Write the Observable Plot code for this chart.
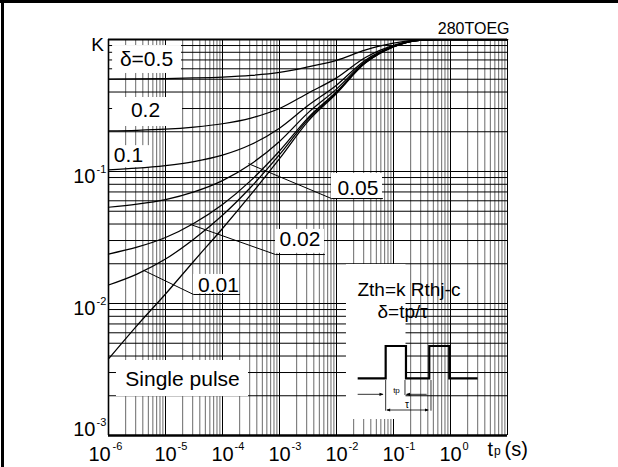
<!DOCTYPE html>
<html><head><meta charset="utf-8">
<script src="https://cdn.jsdelivr.net/npm/d3@7"></script>
<script src="https://cdn.jsdelivr.net/npm/@observablehq/plot@0.6"></script>
<style>html,body{margin:0;padding:0;background:#fff} svg{display:block}</style>
</head><body><div id="chart"></div>
<script>
// pulse duration tp (s)
const tp = [1e-6, 3.16e-6, 1e-5, 3.16e-5, 1e-4, 3.16e-4, 1e-3, 3.16e-3, 1e-2, 3.16e-2, 5.62e-2, 0.1, 0.178, 0.316, 0.562, 1, 10];
// normalized thermal impedance K for each duty cycle
const kD05 = [0.502, 0.503, 0.506, 0.511, 0.519, 0.534, 0.563, 0.62, 0.695, 0.83, 0.89, 0.94, 0.978, 0.995, 1, 1, 1];
const kD02 = [0.203, 0.205, 0.209, 0.217, 0.230, 0.254, 0.300, 0.392, 0.512, 0.728, 0.824, 0.904, 0.964, 0.992, 1, 1, 1];
const kD01 = [0.103, 0.106, 0.111, 0.119, 0.133, 0.160, 0.213, 0.316, 0.451, 0.694, 0.802, 0.892, 0.960, 0.991, 1, 1, 1];
const kD005 = [0.0536, 0.0565, 0.0612, 0.070, 0.0852, 0.114, 0.169, 0.278, 0.421, 0.677, 0.791, 0.886, 0.957, 0.991, 1, 1, 1];
const kD002 = [0.0237, 0.0267, 0.0316, 0.0406, 0.0563, 0.0857, 0.143, 0.255, 0.402, 0.667, 0.784, 0.882, 0.956, 0.990, 1, 1, 1];
const kD001 = [0.0138, 0.0167, 0.0217, 0.0308, 0.0466, 0.0763, 0.134, 0.248, 0.396, 0.663, 0.782, 0.881, 0.955, 0.990, 1, 1, 1];
const kSingle = [0.0038, 0.0068, 0.0118, 0.021, 0.037, 0.067, 0.125, 0.24, 0.39, 0.66, 0.78, 0.88, 0.955, 0.99, 1, 1, 1];
const seriesNames = ["δ=0.5", "0.2", "0.1", "0.05", "0.02", "0.01", "Single pulse"];
const xTickExp = [-6, -5, -4, -3, -2, -1, 0];
const yTickExp = [-3, -2, -1];
const mantissas = [1, 2, 3, 4, 5, 6, 7, 8, 9];

const series = [kD05, kD02, kD01, kD005, kD002, kD001, kSingle];
const rows = series.flatMap((s, i) => s.map((k, j) => ({t: tp[j], k, name: seriesNames[i]})));

const gridMinorX = [-6,-5,-4,-3,-2,-1,0].flatMap(e => mantissas.slice(1).map(m => m * 10 ** e));
const gridMajorX = [-6,-5,-4,-3,-2,-1,0,1].map(e => 10 ** e);
const gridY = [-3,-2,-1].flatMap(e => mantissas.map(m => m * 10 ** e)).concat([1]);

// annotation placement (data units)
const boxes = [
  {x1: 1.18e-6, x2: 1.91e-5, y1: 0.553, y2: 0.90},
  {x1: 1.18e-6, x2: 1.99e-5, y1: 0.2193, y2: 0.3636},
  {x1: 1.08e-6, x2: 5.24e-6, y1: 0.107, y2: 0.157},
  {x1: 8.17e-3, x2: 0.0641, y1: 0.0624, y2: 0.0966},
  {x1: 8.51e-4, x2: 6.15e-3, y1: 0.0240, y2: 0.0364},
  {x1: 3.10e-5, x2: 1.99e-4, y1: 0.0119, y2: 0.0166},
  {x1: 1.38e-6, x2: 2.86e-4, y1: 0.00197, y2: 0.0037},
  {x1: 0.01496, x2: 0.1657, y1: 0.001322, y2: 0.01974}
];
const labels = [
  {t: 4.64e-6, k: 0.635, s: "δ=0.5"},
  {t: 4.46e-6, k: 0.2566, s: "0.2"},
  {t: 2.24e-6, k: 0.117, s: "0.1"},
  {t: 0.0238, k: 0.0658, s: "0.05"},
  {t: 2.29e-3, k: 0.0272, s: "0.02"},
  {t: 8.51e-5, k: 0.01222, s: "0.01"},
  {t: 1.99e-5, k: 0.00239, s: "Single pulse"}
];
const leaders = [
  {g: "0.05", t: 2.89e-4, k: 0.1144}, {g: "0.05", t: 8.17e-3, k: 0.0624}, {g: "0.05", t: 0.0641, k: 0.0624},
  {g: "0.02", t: 2.75e-5, k: 0.0397}, {g: "0.02", t: 8.51e-4, k: 0.0235}, {g: "0.02", t: 6.15e-3, k: 0.0235},
  {g: "0.01", t: 4.16e-6, k: 0.0178}, {g: "0.01", t: 3.10e-5, k: 0.0117}, {g: "0.01", t: 1.99e-4, k: 0.0117}
];
const insetText = [
  {t: 0.02333, k: 0.01130, s: "Zth=k Rthj-c"},
  {t: 0.0524, k: 0.00770, s: "δ=tp/τ"}
];

const font = "'Liberation Sans', Arial, Helvetica, sans-serif";
const X0 = () => 1e-6, Y0 = () => 1e-3;

const chart = Plot.plot({
  width: 618, height: 467,
  marginLeft: 108, marginRight: 111, marginTop: 39, marginBottom: 32,
  style: {fontFamily: font, background: "#fff", color: "#000"},
  x: {type: "log", domain: [1e-6, 10], axis: null},
  y: {type: "log", domain: [1e-3, 1], axis: null},
  marks: [
    Plot.ruleX(gridMinorX, {stroke: "#6a6a6a", strokeWidth: 1}),
    Plot.ruleX(gridMajorX, {stroke: "#000", strokeWidth: 1}),
    Plot.ruleY(gridY, {stroke: "#000", strokeWidth: 1}),
    Plot.ruleY([1], {stroke: "#000", strokeWidth: 2.2}),
    Plot.rect(boxes, {x1: "x1", x2: "x2", y1: "y1", y2: "y2", fill: "#fff"}),
    Plot.line(rows, {x: "t", y: "k", z: "name", stroke: "#000", strokeWidth: 1.25, curve: "monotone-x"}),
    Plot.line(leaders, {x: "t", y: "k", z: "g", stroke: "#000", strokeWidth: 1}),
    Plot.ruleX([1e-6], {stroke: "#000", strokeWidth: 1.6}),
    Plot.ruleY([1e-3], {stroke: "#000", strokeWidth: 2.6}),
    Plot.text(labels, {x: "t", y: "k", text: "s", fontSize: 21, lineAnchor: "bottom", textAnchor: "middle", fill: "#000"}),
    Plot.text(insetText, {x: "t", y: "k", text: "s", fontSize: 19, lineAnchor: "bottom", textAnchor: "start", fill: "#000"}),
    // x tick labels
    Plot.text(xTickExp.slice(0, 1), {x: e => 10 ** e, y: Y0, text: () => "10", dx: -9, dy: 25, fontSize: 20, lineAnchor: "bottom", textAnchor: "middle"}),
    Plot.text(xTickExp.slice(1), {x: e => 10 ** e, y: Y0, text: () => "10", dy: 25, fontSize: 20, lineAnchor: "bottom", textAnchor: "middle"}),
    Plot.text(xTickExp.slice(0, 1), {x: e => 10 ** e, y: Y0, text: e => String(e), dx: 4, dy: 14, fontSize: 11, lineAnchor: "bottom", textAnchor: "start"}),
    Plot.text(xTickExp.slice(1), {x: e => 10 ** e, y: Y0, text: e => String(e), dx: 12, dy: 14, fontSize: 11, lineAnchor: "bottom", textAnchor: "start"}),
    // y tick labels
    Plot.text(yTickExp.slice(1), {x: X0, y: e => 10 ** e, text: () => "10", dx: -13, dy: 11, fontSize: 20, lineAnchor: "bottom", textAnchor: "end"}),
    Plot.text(yTickExp.slice(1), {x: X0, y: e => 10 ** e, text: e => String(e), dx: -12, dy: 1, fontSize: 11, lineAnchor: "bottom", textAnchor: "start"}),
    Plot.text(yTickExp.slice(0, 1), {x: X0, y: e => 10 ** e, text: () => "10", dx: -13, dy: 0, fontSize: 20, lineAnchor: "bottom", textAnchor: "end"}),
    Plot.text(yTickExp.slice(0, 1), {x: X0, y: e => 10 ** e, text: e => String(e), dx: -12, dy: -10, fontSize: 11, lineAnchor: "bottom", textAnchor: "start"}),
    Plot.text(["K"], {x: X0, y: () => 1, dx: -11, dy: 11, fontSize: 19, lineAnchor: "bottom", textAnchor: "middle"}),
    Plot.text(["280TOEG"], {x: () => 10, y: () => 1, dx: 2, dy: -6, fontSize: 16, lineAnchor: "bottom", textAnchor: "end"}),
    // axis title tp(s)
    Plot.text(["t"], {x: () => 10, y: Y0, dx: -20, dy: 20, fontSize: 20, lineAnchor: "bottom", textAnchor: "start"}),
    Plot.text(["p"], {x: () => 10, y: Y0, dx: -13.5, dy: 19, fontSize: 12, lineAnchor: "bottom", textAnchor: "start"}),
    Plot.text(["(s)"], {x: () => 10, y: Y0, dx: -3, dy: 20, fontSize: 20, lineAnchor: "bottom", textAnchor: "start"})
  ]
});

document.getElementById("chart").appendChild(chart);

// pulse schematic inside the inset, positioned from the inset box corner
const sx = chart.scale("x"), sy = chart.scale("y");
const bx = sx.apply(boxes[7].x1), by = sy.apply(boxes[7].y2);
const svg = d3.select(chart);
const g = svg.append("g").attr("transform", `translate(${bx},${by})`).attr("fill", "none").attr("stroke", "#000");
g.append("path").attr("d", "M11.7,114.3H39.7V82H60V114.3H83.3V82H103.3V114.3H131.7").attr("stroke-width", 2.2);
g.append("path").attr("d", "M39.7,116V146.7M59,116V131M85,116V146.7M11.7,130.3H37M80.7,130.3H60.5M41,146H82").attr("stroke-width", 0.8);
g.append("path").attr("d", "M37.5,130.3l-4,-1.6v3.2zM60,130.3l4,-1.6v3.2zM40.2,146l4,-1.6v3.2zM83,146l-4,-1.6v3.2z").attr("fill", "#000").attr("stroke", "none");
g.append("text").attr("x", 50.5).attr("y", 129).attr("text-anchor", "middle").attr("font-size", 8).attr("fill", "#000").attr("stroke", "none").attr("font-family", font).text("tp");
g.append("text").attr("x", 61).attr("y", 144).attr("text-anchor", "middle").attr("font-size", 10).attr("fill", "#000").attr("stroke", "none").attr("font-family", font).text("τ");

// page frame (left and top rules)
svg.append("line").attr("x1", 2.5).attr("x2", 2.5).attr("y1", 0).attr("y2", 467).attr("stroke", "#000").attr("stroke-width", 3);
svg.append("line").attr("x1", 0).attr("x2", 618).attr("y1", 1.5).attr("y2", 1.5).attr("stroke", "#000").attr("stroke-width", 3);
</script>
</body></html>
